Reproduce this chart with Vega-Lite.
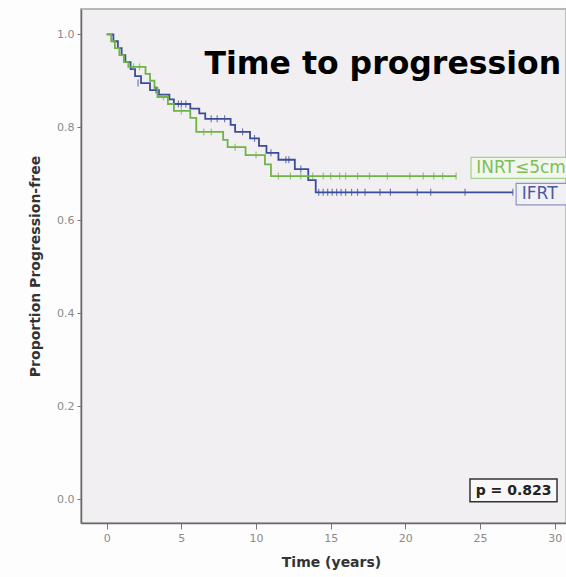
{
  "$schema": "https://vega.github.io/schema/vega-lite/v6.json",
  "width": 485,
  "height": 514,
  "autosize": "none",
  "padding": {"left": 81, "top": 9, "right": 0, "bottom": 54},
  "background": "#fdfdfd",
  "config": {
    "view": {"fill": "#f1eff1", "stroke": "#b8b8b8", "strokeWidth": 1.8},
    "font": "DejaVu Sans"
  },
  "datasets": {
    "km": [
      {"g": "IFRT", "t": 0, "s": 1.0},
      {"g": "IFRT", "t": 0.45, "s": 0.985},
      {"g": "IFRT", "t": 0.75, "s": 0.97},
      {"g": "IFRT", "t": 1.0, "s": 0.955},
      {"g": "IFRT", "t": 1.25, "s": 0.94},
      {"g": "IFRT", "t": 1.6, "s": 0.925},
      {"g": "IFRT", "t": 1.9, "s": 0.91},
      {"g": "IFRT", "t": 2.3, "s": 0.895},
      {"g": "IFRT", "t": 2.9, "s": 0.88},
      {"g": "IFRT", "t": 3.5, "s": 0.87},
      {"g": "IFRT", "t": 4.2, "s": 0.86},
      {"g": "IFRT", "t": 4.5, "s": 0.85},
      {"g": "IFRT", "t": 5.6, "s": 0.84},
      {"g": "IFRT", "t": 6.2, "s": 0.83},
      {"g": "IFRT", "t": 6.6, "s": 0.818},
      {"g": "IFRT", "t": 8.3, "s": 0.805},
      {"g": "IFRT", "t": 8.6, "s": 0.79},
      {"g": "IFRT", "t": 9.6, "s": 0.776},
      {"g": "IFRT", "t": 10.2, "s": 0.76},
      {"g": "IFRT", "t": 10.7, "s": 0.745},
      {"g": "IFRT", "t": 11.5, "s": 0.73},
      {"g": "IFRT", "t": 12.6, "s": 0.71},
      {"g": "IFRT", "t": 13.5, "s": 0.686},
      {"g": "IFRT", "t": 14.0, "s": 0.66},
      {"g": "IFRT", "t": 27.2, "s": 0.66},
      {"g": "INRT", "t": 0, "s": 1.0},
      {"g": "INRT", "t": 0.3, "s": 0.985},
      {"g": "INRT", "t": 0.55, "s": 0.97},
      {"g": "INRT", "t": 0.85, "s": 0.955},
      {"g": "INRT", "t": 1.15, "s": 0.94},
      {"g": "INRT", "t": 1.45, "s": 0.93},
      {"g": "INRT", "t": 2.6, "s": 0.915},
      {"g": "INRT", "t": 2.9, "s": 0.9},
      {"g": "INRT", "t": 3.2, "s": 0.885},
      {"g": "INRT", "t": 3.4, "s": 0.865},
      {"g": "INRT", "t": 4.1, "s": 0.85},
      {"g": "INRT", "t": 4.5, "s": 0.835},
      {"g": "INRT", "t": 5.6, "s": 0.82},
      {"g": "INRT", "t": 6.0, "s": 0.79},
      {"g": "INRT", "t": 7.8, "s": 0.773},
      {"g": "INRT", "t": 8.1, "s": 0.757},
      {"g": "INRT", "t": 9.3, "s": 0.74},
      {"g": "INRT", "t": 10.6, "s": 0.72},
      {"g": "INRT", "t": 11.0, "s": 0.695},
      {"g": "INRT", "t": 23.4, "s": 0.695}
    ],
    "cens": [
      {"g": "IFRT", "t": 2.1, "s": 0.895},
      {"g": "IFRT", "t": 3.3, "s": 0.88},
      {"g": "IFRT", "t": 4.8, "s": 0.85},
      {"g": "IFRT", "t": 5.0, "s": 0.85},
      {"g": "IFRT", "t": 5.3, "s": 0.85},
      {"g": "IFRT", "t": 7.0, "s": 0.818},
      {"g": "IFRT", "t": 7.4, "s": 0.818},
      {"g": "IFRT", "t": 7.9, "s": 0.818},
      {"g": "IFRT", "t": 9.1, "s": 0.79},
      {"g": "IFRT", "t": 9.9, "s": 0.776},
      {"g": "IFRT", "t": 11.0, "s": 0.745},
      {"g": "IFRT", "t": 12.0, "s": 0.73},
      {"g": "IFRT", "t": 12.2, "s": 0.73},
      {"g": "IFRT", "t": 13.0, "s": 0.71},
      {"g": "IFRT", "t": 14.2, "s": 0.66},
      {"g": "IFRT", "t": 14.5, "s": 0.66},
      {"g": "IFRT", "t": 14.8, "s": 0.66},
      {"g": "IFRT", "t": 15.1, "s": 0.66},
      {"g": "IFRT", "t": 15.4, "s": 0.66},
      {"g": "IFRT", "t": 15.7, "s": 0.66},
      {"g": "IFRT", "t": 16.0, "s": 0.66},
      {"g": "IFRT", "t": 16.4, "s": 0.66},
      {"g": "IFRT", "t": 16.8, "s": 0.66},
      {"g": "IFRT", "t": 17.3, "s": 0.66},
      {"g": "IFRT", "t": 18.3, "s": 0.66},
      {"g": "IFRT", "t": 19.0, "s": 0.66},
      {"g": "IFRT", "t": 20.8, "s": 0.66},
      {"g": "IFRT", "t": 21.7, "s": 0.66},
      {"g": "IFRT", "t": 24.0, "s": 0.66},
      {"g": "IFRT", "t": 27.2, "s": 0.66},
      {"g": "INRT", "t": 1.8, "s": 0.93},
      {"g": "INRT", "t": 2.2, "s": 0.93},
      {"g": "INRT", "t": 3.8, "s": 0.865},
      {"g": "INRT", "t": 5.0, "s": 0.835},
      {"g": "INRT", "t": 6.5, "s": 0.79},
      {"g": "INRT", "t": 7.0, "s": 0.79},
      {"g": "INRT", "t": 8.6, "s": 0.757},
      {"g": "INRT", "t": 10.0, "s": 0.74},
      {"g": "INRT", "t": 11.5, "s": 0.695},
      {"g": "INRT", "t": 12.3, "s": 0.695},
      {"g": "INRT", "t": 13.0, "s": 0.695},
      {"g": "INRT", "t": 13.8, "s": 0.695},
      {"g": "INRT", "t": 14.5, "s": 0.695},
      {"g": "INRT", "t": 15.0, "s": 0.695},
      {"g": "INRT", "t": 15.6, "s": 0.695},
      {"g": "INRT", "t": 16.0, "s": 0.695},
      {"g": "INRT", "t": 16.8, "s": 0.695},
      {"g": "INRT", "t": 17.6, "s": 0.695},
      {"g": "INRT", "t": 18.8, "s": 0.695},
      {"g": "INRT", "t": 20.3, "s": 0.695},
      {"g": "INRT", "t": 21.2, "s": 0.695},
      {"g": "INRT", "t": 21.9, "s": 0.695},
      {"g": "INRT", "t": 22.5, "s": 0.695},
      {"g": "INRT", "t": 23.4, "s": 0.695}
    ]
  },
  "layer": [
    {
      "data": {"name": "km"},
      "mark": {"type": "line", "interpolate": "step-after", "strokeWidth": 1.8},
      "encoding": {
        "x": {
          "field": "t", "type": "quantitative",
          "scale": {"domain": [-1.72, 30.76], "nice": false, "zero": false},
          "axis": {
            "values": [0, 5, 10, 15, 20, 25, 30],
            "grid": false,
            "title": "Time (years)",
            "titleFont": "DejaVu Sans", "titleFontSize": 14, "titleFontWeight": "bold", "titleColor": "#333",
            "titlePadding": 12, "titleX": 250,
            "labelFont": "DejaVu Sans", "labelFontSize": 11, "labelColor": "#8a8a8a", "labelPadding": 3,
            "tickColor": "#777", "tickSize": 6, "domainColor": "#6a6a6a", "domainWidth": 1.5
          }
        },
        "y": {
          "field": "s", "type": "quantitative",
          "scale": {"domain": [-0.0516, 1.0544], "nice": false, "zero": false},
          "axis": {
            "values": [0, 0.2, 0.4, 0.6, 0.8, 1.0],
            "format": ".1f",
            "grid": false,
            "title": "Proportion Progression-free",
            "titleFont": "DejaVu Sans", "titleFontSize": 14, "titleFontWeight": "bold", "titleColor": "#333",
            "titlePadding": 14,
            "labelFont": "DejaVu Sans", "labelFontSize": 11, "labelColor": "#8a8a8a", "labelPadding": 3,
            "tickColor": "#777", "tickSize": 4, "domainColor": "#6a6a6a", "domainWidth": 1.5
          }
        },
        "color": {
          "field": "g", "type": "nominal",
          "scale": {"domain": ["INRT", "IFRT"], "range": ["#6fb446", "#3c4c9a"]},
          "legend": null
        }
      }
    },
    {
      "data": {"name": "cens"},
      "mark": {"type": "tick", "orient": "vertical", "size": 7, "thickness": 1.2},
      "encoding": {
        "x": {"field": "t", "type": "quantitative"},
        "y": {"field": "s", "type": "quantitative"},
        "color": {"field": "g", "type": "nominal", "legend": null}
      }
    },
    {
      "data": {"values": [{}]},
      "mark": {"type": "rect", "fill": "#f3f6ef", "stroke": "#a5d28e", "strokeWidth": 1.2},
      "encoding": {
        "x": {"datum": 24.4, "type": "quantitative"},
        "x2": {"datum": 31},
        "y": {"datum": 0.690, "type": "quantitative"},
        "y2": {"datum": 0.735}
      }
    },
    {
      "data": {"values": [{}]},
      "mark": {"type": "rect", "fill": "#f1f1f5", "stroke": "#8a95c4", "strokeWidth": 1.2},
      "encoding": {
        "x": {"datum": 27.42, "type": "quantitative"},
        "x2": {"datum": 31},
        "y": {"datum": 0.633, "type": "quantitative"},
        "y2": {"datum": 0.679}
      }
    },
    {
      "data": {"values": [{}]},
      "mark": {"type": "rect", "fill": "#f8f8f8", "stroke": "#333333", "strokeWidth": 1.5},
      "encoding": {
        "x": {"datum": 24.33, "type": "quantitative"},
        "x2": {"datum": 30.16},
        "y": {"datum": -0.006, "type": "quantitative"},
        "y2": {"datum": 0.043}
      }
    },
    {
      "data": {"values": [{"label": "INRT≤5cm"}]},
      "mark": {"type": "text", "align": "left", "baseline": "middle", "fontSize": 17, "font": "DejaVu Sans", "color": "#7cc056"},
      "encoding": {
        "x": {"datum": 24.75, "type": "quantitative"},
        "y": {"datum": 0.712, "type": "quantitative"},
        "text": {"field": "label"}
      }
    },
    {
      "data": {"values": [{"label": "IFRT"}]},
      "mark": {"type": "text", "align": "left", "baseline": "middle", "fontSize": 17, "font": "DejaVu Sans", "color": "#4b5a9f"},
      "encoding": {
        "x": {"datum": 27.8, "type": "quantitative"},
        "y": {"datum": 0.656, "type": "quantitative"},
        "text": {"field": "label"}
      }
    },
    {
      "data": {"values": [{"label": "p = 0.823"}]},
      "mark": {"type": "text", "align": "center", "baseline": "middle", "fontSize": 14, "fontWeight": "bold", "font": "DejaVu Sans", "color": "#222"},
      "encoding": {
        "x": {"datum": 27.25, "type": "quantitative"},
        "y": {"datum": 0.018, "type": "quantitative"},
        "text": {"field": "label"}
      }
    },
    {
      "data": {"values": [{"label": "Time to progression"}]},
      "mark": {"type": "text", "align": "left", "baseline": "alphabetic", "fontSize": 31.5, "fontWeight": "bold", "font": "DejaVu Sans", "color": "#000"},
      "encoding": {
        "x": {"datum": 6.55, "type": "quantitative"},
        "y": {"datum": 0.915, "type": "quantitative"},
        "text": {"field": "label"}
      }
    }
  ]
}
